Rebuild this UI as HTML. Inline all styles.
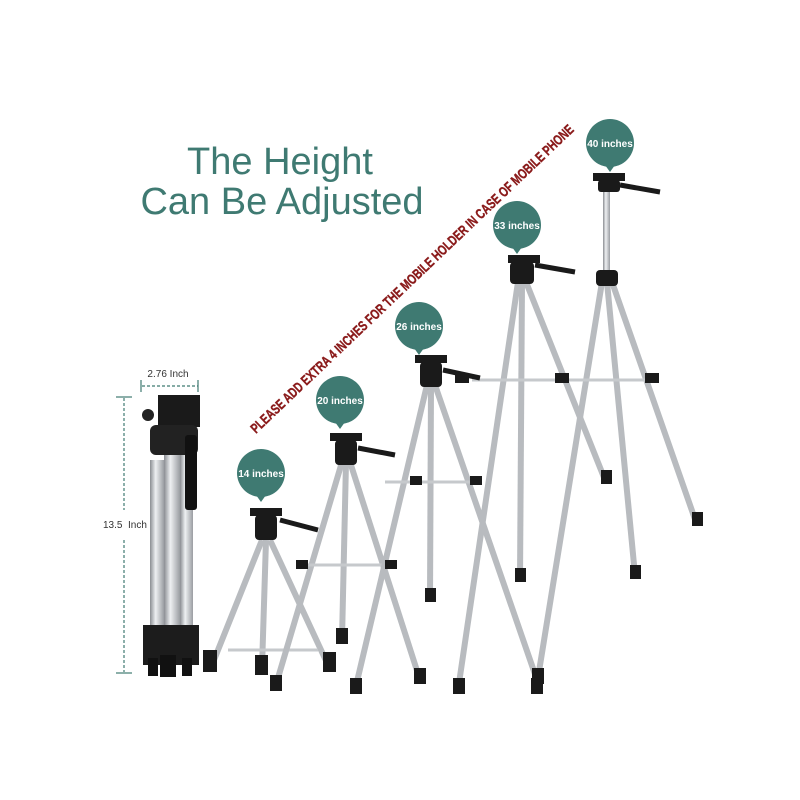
<!DOCTYPE html>
<html><head><meta charset="utf-8"><style>
html,body{margin:0;padding:0;background:#fff}
svg{display:block}
</style></head><body>
<svg width="800" height="800" viewBox="0 0 800 800" xmlns="http://www.w3.org/2000/svg">
<defs>
<linearGradient id="sil" x1="0" x2="1" y1="0" y2="0">
<stop offset="0" stop-color="#8a8d92"/><stop offset="0.4" stop-color="#eef0f2"/><stop offset="1" stop-color="#9a9da2"/>
</linearGradient>
</defs>
<rect width="800" height="800" fill="#fff"/>
<g font-family="Liberation Sans, sans-serif" fill="#3f7a72" text-anchor="middle">
<text x="280" y="174" font-size="38">The Height</text>
<text x="282" y="214" font-size="38">Can Be Adjusted</text>
</g>
<text transform="translate(256,434) rotate(-43.6)" font-family="Liberation Sans, sans-serif" font-weight="bold" font-size="14" fill="#8a1a1a" stroke="#8a1a1a" stroke-width="0.4" textLength="440" lengthAdjust="spacingAndGlyphs">PLEASE ADD EXTRA 4 INCHES FOR THE MOBILE HOLDER IN CASE OF MOBILE PHONE</text>

<g stroke="#3f7a72" stroke-width="1.2" stroke-dasharray="3,2" fill="none">
<line x1="142" y1="386" x2="198" y2="386"/>
<line x1="124" y1="398" x2="124" y2="510"/>
<line x1="124" y1="540" x2="124" y2="672"/>
</g>
<g stroke="#3f7a72" stroke-width="1.2">
<line x1="141" y1="380" x2="141" y2="392"/><line x1="198" y1="380" x2="198" y2="392"/>
<line x1="116" y1="397" x2="132" y2="397"/><line x1="116" y1="673" x2="132" y2="673"/>
</g>
<text x="168" y="377" font-family="Liberation Sans, sans-serif" font-size="10" fill="#333" text-anchor="middle">2.76 Inch</text>
<text x="103" y="528" font-family="Liberation Sans, sans-serif" font-size="10" fill="#333">13.5&#160; Inch</text>

<g>
<rect x="150" y="460" width="14" height="200" fill="url(#sil)"/>
<rect x="164" y="450" width="16" height="210" fill="url(#sil)"/>
<rect x="180" y="455" width="13" height="205" fill="url(#sil)"/>
<rect x="158" y="395" width="42" height="32" fill="#1a1a1a"/>
<rect x="150" y="425" width="48" height="30" rx="6" fill="#222"/>
<circle cx="148" cy="415" r="6" fill="#222"/>
<rect x="185" y="435" width="12" height="75" rx="3" fill="#111"/>
<rect x="143" y="625" width="56" height="40" fill="#1c1c1c"/>
<rect x="160" y="655" width="16" height="22" fill="#111"/>
<rect x="148" y="658" width="10" height="18" fill="#111"/>
<rect x="182" y="658" width="10" height="18" fill="#111"/>
</g>

<g stroke-linecap="butt">
<g stroke="#b8bbbf" stroke-width="6">
<line x1="262" y1="540" x2="212" y2="665"/>
<line x1="266" y1="540" x2="262" y2="668"/>
<line x1="270" y1="540" x2="328" y2="665"/>
</g>
<line x1="228" y1="650" x2="318" y2="650" stroke="#c6c9cc" stroke-width="3"/>
<g stroke="#b8bbbf" stroke-width="6">
<line x1="342" y1="462" x2="275" y2="688"/>
<line x1="346" y1="462" x2="342" y2="640"/>
<line x1="350" y1="462" x2="420" y2="680"/>
</g>
<line x1="300" y1="565" x2="390" y2="565" stroke="#c6c9cc" stroke-width="3"/>
<g stroke="#b8bbbf" stroke-width="6">
<line x1="427" y1="385" x2="355" y2="690"/>
<line x1="431" y1="385" x2="430" y2="600"/>
<line x1="435" y1="385" x2="537" y2="680"/>
</g>
<line x1="385" y1="482" x2="475" y2="482" stroke="#c6c9cc" stroke-width="3"/>
<g stroke="#b8bbbf" stroke-width="6">
<line x1="518" y1="282" x2="458" y2="690"/>
<line x1="522" y1="282" x2="520" y2="580"/>
<line x1="526" y1="282" x2="605" y2="480"/>
</g>
<line x1="472" y1="380" x2="560" y2="380" stroke="#c6c9cc" stroke-width="3"/>
<g stroke="#b8bbbf" stroke-width="6">
<line x1="602" y1="282" x2="536" y2="690"/>
<line x1="607" y1="282" x2="635" y2="575"/>
<line x1="612" y1="282" x2="697" y2="525"/>
</g>
<line x1="556" y1="380" x2="650" y2="380" stroke="#c6c9cc" stroke-width="3"/>
<rect x="603" y="190" width="7" height="92" fill="url(#sil)"/>
<rect x="518" y="270" width="6" height="14" fill="#999"/>
</g>

<g fill="#1a1a1a">
<rect x="250" y="508" width="32" height="8"/><rect x="255" y="515" width="22" height="25" rx="4"/>
<line x1="280" y1="520" x2="318" y2="530" stroke="#1a1a1a" stroke-width="5"/>
<rect x="330" y="433" width="32" height="8"/><rect x="335" y="440" width="22" height="25" rx="4"/>
<line x1="358" y1="448" x2="395" y2="455" stroke="#1a1a1a" stroke-width="5"/>
<rect x="415" y="355" width="32" height="8"/><rect x="420" y="362" width="22" height="25" rx="4"/>
<line x1="443" y1="370" x2="480" y2="378" stroke="#1a1a1a" stroke-width="5"/>
<rect x="508" y="255" width="32" height="8"/><rect x="510" y="262" width="24" height="22" rx="4"/>
<line x1="535" y1="265" x2="575" y2="272" stroke="#1a1a1a" stroke-width="5"/>
<rect x="593" y="173" width="32" height="8"/><rect x="598" y="180" width="22" height="12" rx="3"/>
<rect x="596" y="270" width="22" height="16" rx="4"/>
<line x1="620" y1="185" x2="660" y2="192" stroke="#1a1a1a" stroke-width="5"/>
<rect x="203" y="650" width="14" height="22"/><rect x="255" y="655" width="13" height="20"/><rect x="323" y="652" width="13" height="20"/>
<rect x="270" y="675" width="12" height="16"/><rect x="336" y="628" width="12" height="16"/><rect x="414" y="668" width="12" height="16"/>
<rect x="350" y="678" width="12" height="16"/><rect x="425" y="588" width="11" height="14"/><rect x="532" y="668" width="12" height="16"/>
<rect x="453" y="678" width="12" height="16"/><rect x="515" y="568" width="11" height="14"/><rect x="601" y="470" width="11" height="14"/>
<rect x="531" y="678" width="12" height="16"/><rect x="630" y="565" width="11" height="14"/><rect x="692" y="512" width="11" height="14"/>
<rect x="455" y="373" width="14" height="10"/><rect x="555" y="373" width="14" height="10"/><rect x="645" y="373" width="14" height="10"/>
<rect x="410" y="476" width="12" height="9"/><rect x="470" y="476" width="12" height="9"/>
<rect x="296" y="560" width="12" height="9"/><rect x="385" y="560" width="12" height="9"/>
</g>

<g fill="#3f7a72">
<circle cx="261" cy="473" r="24"/><path d="M256 495 L261 502 L266 495Z"/>
<circle cx="340" cy="400" r="24"/><path d="M335 422 L340 429 L345 422Z"/>
<circle cx="419" cy="326" r="24"/><path d="M414 348 L419 355 L424 348Z"/>
<circle cx="517" cy="225" r="24"/><path d="M512 247 L517 254 L522 247Z"/>
<circle cx="610" cy="143" r="24"/><path d="M605 165 L610 172 L615 165Z"/>
</g>
<g font-family="Liberation Sans, sans-serif" font-weight="bold" font-size="10" fill="#fff" text-anchor="middle">
<text x="261" y="477">14 inches</text>
<text x="340" y="404">20 inches</text>
<text x="419" y="330">26 inches</text>
<text x="517" y="229">33 inches</text>
<text x="610" y="147">40 inches</text>
</g>
</svg>
</body></html>
